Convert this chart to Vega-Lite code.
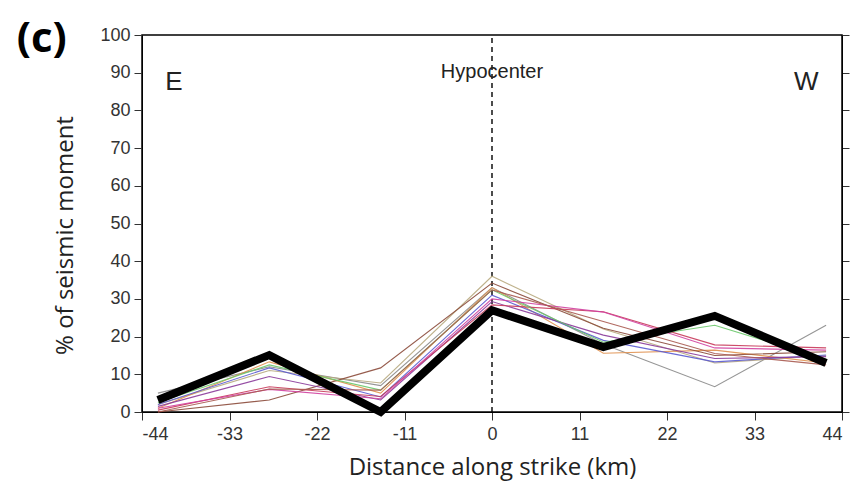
{
  "$schema": "https://vega.github.io/schema/vega-lite/v6.json",
  "width": 700,
  "height": 377,
  "autosize": "none",
  "padding": {"left": 142, "top": 35, "right": 17, "bottom": 87},
  "background": "white",
  "config": {
    "view": {"stroke": "black", "strokeWidth": 1.5},
    "axis": {"grid": false, "domainColor": "black", "tickColor": "#333", "tickSize": 8, "labelFont": "Liberation Sans", "labelFontSize": 18, "labelColor": "#333", "labelOverlap": false, "titleFont": "Open Sans", "titleFontWeight": "normal", "titleColor": "#222"}
  },
  "resolve": {"axis": {"y": "independent"}},
  "datasets": {
    "thin": [
      {"s": "grey", "x": -42, "y": 5}, {"s": "grey", "x": -28, "y": 12}, {"s": "grey", "x": -14, "y": 7}, {"s": "grey", "x": 0, "y": 33}, {"s": "grey", "x": 14, "y": 18}, {"s": "grey", "x": 28, "y": 6.7}, {"s": "grey", "x": 42, "y": 23},
      {"s": "olive", "x": -42, "y": 2}, {"s": "olive", "x": -28, "y": 11}, {"s": "olive", "x": -14, "y": 7.7}, {"s": "olive", "x": 0, "y": 36}, {"s": "olive", "x": 14, "y": 22}, {"s": "olive", "x": 28, "y": 13}, {"s": "olive", "x": 42, "y": 15},
      {"s": "orange", "x": -42, "y": 1}, {"s": "orange", "x": -28, "y": 13.3}, {"s": "orange", "x": -14, "y": 5}, {"s": "orange", "x": 0, "y": 33}, {"s": "orange", "x": 14, "y": 15.6}, {"s": "orange", "x": 28, "y": 16.4}, {"s": "orange", "x": 42, "y": 13},
      {"s": "darkbrown", "x": -42, "y": 0}, {"s": "darkbrown", "x": -28, "y": 3.2}, {"s": "darkbrown", "x": -14, "y": 11.7}, {"s": "darkbrown", "x": 0, "y": 34.2}, {"s": "darkbrown", "x": 14, "y": 22.2}, {"s": "darkbrown", "x": 28, "y": 15}, {"s": "darkbrown", "x": 42, "y": 16},
      {"s": "blue", "x": -42, "y": 2}, {"s": "blue", "x": -28, "y": 11.7}, {"s": "blue", "x": -14, "y": 4}, {"s": "blue", "x": 0, "y": 31}, {"s": "blue", "x": 14, "y": 19}, {"s": "blue", "x": 28, "y": 13.3}, {"s": "blue", "x": 42, "y": 15.1},
      {"s": "purple", "x": -42, "y": 1.5}, {"s": "purple", "x": -28, "y": 9.4}, {"s": "purple", "x": -14, "y": 3.2}, {"s": "purple", "x": 0, "y": 29.3}, {"s": "purple", "x": 14, "y": 20.4}, {"s": "purple", "x": 28, "y": 14.2}, {"s": "purple", "x": 42, "y": 14.7},
      {"s": "red", "x": -42, "y": 0.5}, {"s": "red", "x": -28, "y": 6.7}, {"s": "red", "x": -14, "y": 4.1}, {"s": "red", "x": 0, "y": 28.4}, {"s": "red", "x": 14, "y": 26.6}, {"s": "red", "x": 28, "y": 17.8}, {"s": "red", "x": 42, "y": 17},
      {"s": "green", "x": -42, "y": 2.5}, {"s": "green", "x": -28, "y": 12.5}, {"s": "green", "x": -14, "y": 5.8}, {"s": "green", "x": 0, "y": 32.4}, {"s": "green", "x": 14, "y": 18.5}, {"s": "green", "x": 28, "y": 23}, {"s": "green", "x": 42, "y": 14},
      {"s": "magenta", "x": -42, "y": 1}, {"s": "magenta", "x": -28, "y": 6}, {"s": "magenta", "x": -14, "y": 3.5}, {"s": "magenta", "x": 0, "y": 30}, {"s": "magenta", "x": 14, "y": 26.5}, {"s": "magenta", "x": 28, "y": 17}, {"s": "magenta", "x": 42, "y": 16.4},
      {"s": "brownred", "x": -42, "y": 0}, {"s": "brownred", "x": -28, "y": 6.1}, {"s": "brownred", "x": -14, "y": 5.8}, {"s": "brownred", "x": 0, "y": 32.4}, {"s": "brownred", "x": 14, "y": 24}, {"s": "brownred", "x": 28, "y": 15.5}, {"s": "brownred", "x": 42, "y": 12.5}
    ],
    "mean": [
      {"x": -42, "y": 3.2}, {"x": -28, "y": 15.1}, {"x": -14, "y": 0}, {"x": 0, "y": 27}, {"x": 14, "y": 17.2}, {"x": 28, "y": 25.5}, {"x": 42, "y": 13}
    ],
    "hypo": [{"x": 0, "y": 0}, {"x": 0, "y": 100}],
    "labels": [
      {"x": -40, "y": 87.5, "t": "E", "size": 26},
      {"x": 39.5, "y": 87.5, "t": "W", "size": 26},
      {"x": 0, "y": 90.3, "t": "Hypocenter", "size": 20}
    ],
    "panel": [{"x": -56.6, "y": 99.0, "t": "(c)"}]
  },
  "layer": [
    {
      "data": {"name": "hypo"},
      "mark": {"type": "line", "color": "black", "strokeWidth": 1.4, "strokeDash": [5, 4]},
      "encoding": {
        "x": {"field": "x", "type": "quantitative", "scale": {"domain": [-44, 44], "nice": false, "zero": false}, "axis": {"values": [-44, -33, -22, -11, 0, 11, 22, 33, 44], "labelExpr": "replace(datum.label, '\u2212', '-')", "title": "Distance along strike (km)", "titleFontSize": 24, "titlePadding": 12, "labelPadding": 5}},
        "y": {"field": "y", "type": "quantitative", "scale": {"domain": [0, 100], "nice": false}, "axis": {"values": [0, 10, 20, 30, 40, 50, 60, 70, 80, 90, 100], "title": "% of seismic moment", "titleFontSize": 24, "titlePadding": 22, "titleY": 200, "labelPadding": 4}}
      }
    },
    {
      "data": {"name": "hypo"},
      "mark": {"type": "point", "opacity": 0},
      "encoding": {
        "x": {"field": "x", "type": "quantitative"},
        "y": {"field": "y", "type": "quantitative", "axis": {"orient": "right", "values": [0, 10, 20, 30, 40, 50, 60, 70, 80, 90, 100], "labels": false, "title": null, "tickSize": 7}}
      }
    },
    {
      "data": {"name": "thin"},
      "mark": {"type": "line", "strokeWidth": 1.1, "opacity": 0.9},
      "encoding": {
        "x": {"field": "x", "type": "quantitative"},
        "y": {"field": "y", "type": "quantitative", "axis": null},
        "detail": {"field": "s"},
        "color": {"field": "s", "type": "nominal", "legend": null, "scale": {"domain": ["grey", "olive", "orange", "darkbrown", "blue", "purple", "red", "green", "magenta", "brownred"], "range": ["#8a8a8a", "#b8aa80", "#e0904e", "#8b4a3a", "#5a5ad0", "#8a3a9a", "#c8385a", "#6ac86a", "#d040a0", "#a85a50"]}}
      }
    },
    {
      "data": {"name": "mean"},
      "mark": {"type": "line", "color": "black", "strokeWidth": 8, "strokeJoin": "miter"},
      "encoding": {
        "x": {"field": "x", "type": "quantitative"},
        "y": {"field": "y", "type": "quantitative", "axis": null}
      }
    },
    {
      "data": {"name": "labels"},
      "mark": {"type": "text", "color": "#222", "font": "Liberation Sans"},
      "encoding": {
        "x": {"field": "x", "type": "quantitative"},
        "y": {"field": "y", "type": "quantitative", "axis": null},
        "text": {"field": "t"},
        "size": {"field": "size", "type": "quantitative", "scale": null, "legend": null}
      }
    },
    {
      "data": {"name": "panel"},
      "mark": {"type": "text", "color": "black", "fontSize": 42, "fontWeight": "bold", "font": "Open Sans", "clip": false},
      "encoding": {
        "x": {"field": "x", "type": "quantitative"},
        "y": {"field": "y", "type": "quantitative", "axis": null},
        "text": {"field": "t"}
      }
    }
  ]
}
